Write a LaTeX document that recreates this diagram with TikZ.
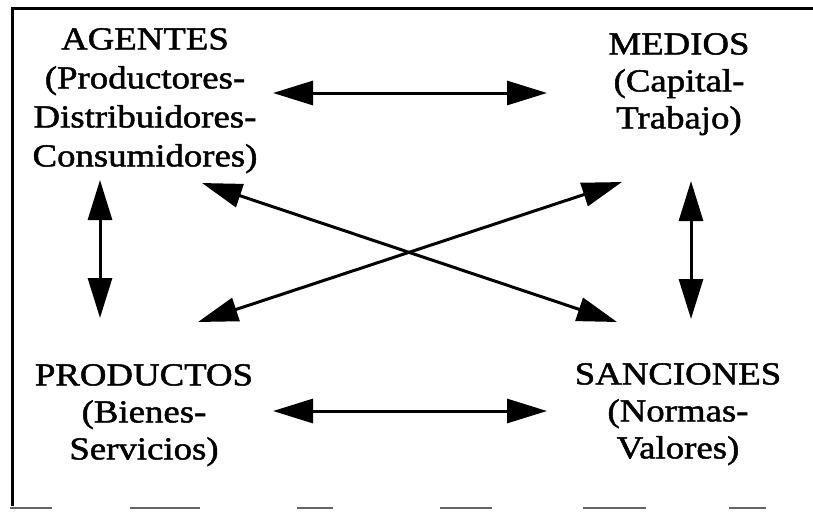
\documentclass[tikz,border=0pt]{standalone}
\usepackage{fontspec}
\setmainfont[FakeStretch=1.15,FakeBold=1.5]{Liberation Serif}
\usetikzlibrary{arrows.meta}
\begin{document}
\begin{tikzpicture}[x=1pt,y=-1pt,
  concept/.style={inner sep=0pt,anchor=north,align=center,
    font=\fontsize{32}{37}\selectfont},
  link/.style={line width=3pt,
    {Triangle[length=40pt,width=24pt]}-{Triangle[length=40pt,width=24pt]}},
  frameline/.style={line width=3pt},
  edgeline/.style={line width=1.2pt,black!60}]
\useasboundingbox (0,0) rectangle (813,512);
\fill[white] (0,0) rectangle (813,512);

% frame
\draw[frameline] (813,8) -- (12,8) -- (12,506);
\foreach \a/\b in {10/52,130/200,297/333,440/492,583/646,729/766}
  \draw[edgeline] (\a,508) -- (\b,508);

% the four concepts
\node[concept,font=\fontsize{32}{39}\selectfont] (agentes) at (145,28)
  {AGENTES\\(Productores-\\Distribuidores-\\Consumidores)};
\node[concept] (medios) at (679,33) {MEDIOS\\(Capital-\\Trabajo)};
\node[concept] (productos) at (144,364) {PRODUCTOS\\(Bienes-\\Servicios)};
\node[concept] (sanciones) at (678,363) {SANCIONES\\(Normas-\\Valores)};

% arrow end points
\coordinate (ag-e) at (273,93);   \coordinate (me-w) at (547,93);
\coordinate (pr-e) at (273,411);  \coordinate (sa-w) at (547,411);
\coordinate (ag-s) at (100,180);  \coordinate (pr-n) at (100,318);
\coordinate (me-s) at (691,181);  \coordinate (sa-n) at (691,319);
\coordinate (ag-se) at (202,183); \coordinate (sa-nw) at (617,322);
\coordinate (pr-ne) at (198,322); \coordinate (me-sw) at (622,182);

% relations
\draw[link] (ag-e) -- (me-w);
\draw[link] (pr-e) -- (sa-w);
\draw[link] (ag-s) -- (pr-n);
\draw[link] (me-s) -- (sa-n);
\draw[link] (ag-se) -- (sa-nw);
\draw[link] (pr-ne) -- (me-sw);
\end{tikzpicture}
\end{document}
